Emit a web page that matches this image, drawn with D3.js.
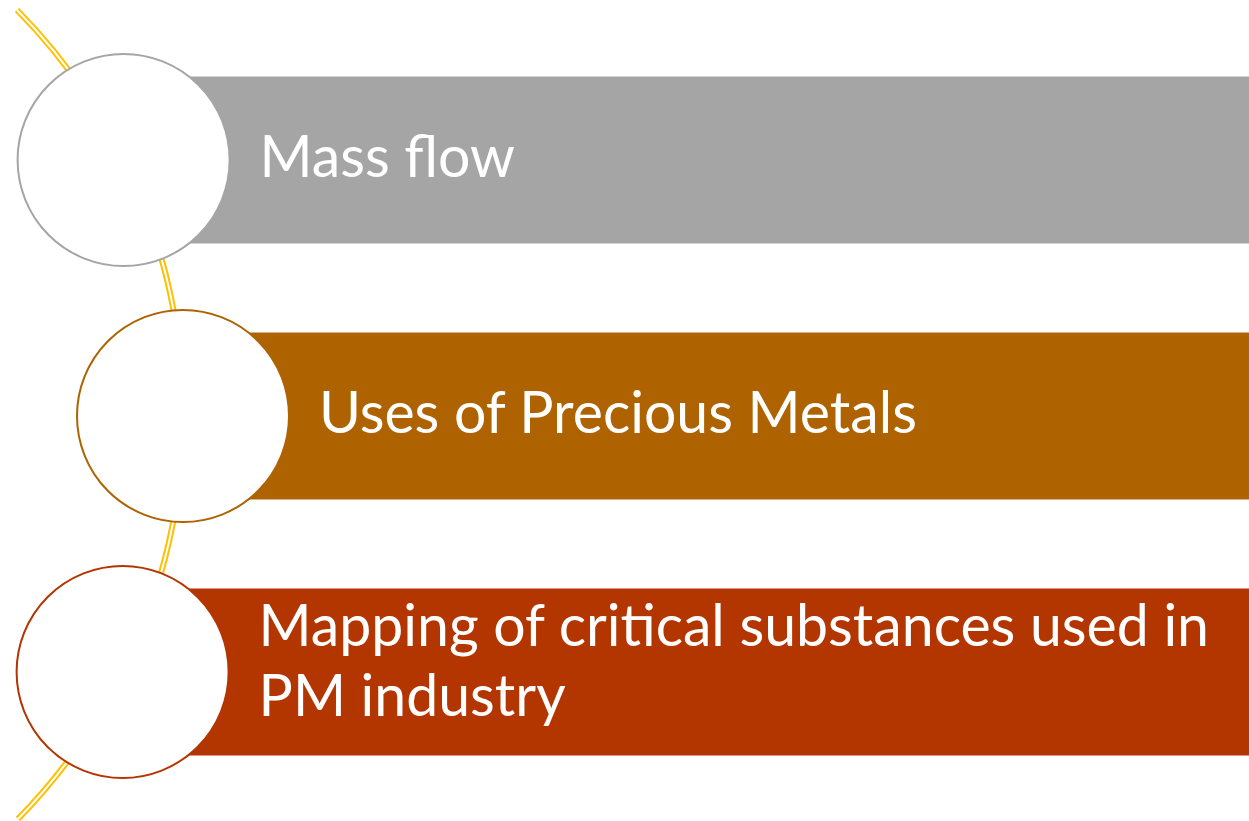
<!DOCTYPE html>
<html>
<head>
<meta charset="utf-8">
<script src="https://cdn.jsdelivr.net/npm/d3@7"></script>
<style>
  html, body { margin: 0; padding: 0; background: #fff; }
  svg { display: block; }
  text { font-family: Lato, "Open Sans", sans-serif; fill: #fff; }
</style>
</head>
<body>
<div id="chart"></div>
<script>
var WIDTH = 1249, HEIGHT = 821;

// items of the list, top to bottom
var steps = ["step1", "step2", "step3"];
var labels = [
    ["Mass flow"],
    ["Uses of Precious Metals"],
    ["Mapping of critical substances used in", "PM industry"]
];
var fills = ["#A5A5A5", "#AE6300", "#B33500"];

var ARC_CX = -394, ARC_CY = 415, ARC_R = 577;
var CIRCLE_R = 106;
var BAR_H = 167;
var TEXT_GAP = 136;
var FONT_SIZE = 60;

var yScale = d3.scalePoint().domain(steps).range([160, 672]);

// x on the big arc for a given y
function arcX(y){
    return ARC_CX + Math.sqrt(ARC_R*ARC_R - (y-ARC_CY)*(y-ARC_CY));
}

var svg = d3.select("#chart").append("svg")
    .attr("width", WIDTH)
    .attr("height", HEIGHT);

// the double yellow arc
var a0 = Math.atan2(10 - ARC_CY, 17 - ARC_CX) + Math.PI/2;
var a1 = Math.atan2(818 - ARC_CY, 17 - ARC_CX) + Math.PI/2;
var arcPath = d3.arc()
    .innerRadius(ARC_R)
    .outerRadius(ARC_R)
    .startAngle(a0)
    .endAngle(a1);
var arcG = svg.append("g").attr("transform", "translate(" + ARC_CX + "," + ARC_CY + ")");
arcG.append("path").attr("d", arcPath()).attr("fill", "none")
    .attr("stroke", "#FFC000").attr("stroke-width", 6);
arcG.append("path").attr("d", arcPath()).attr("fill", "none")
    .attr("stroke", "#fff").attr("stroke-width", 2);

var rows = svg.selectAll(".row")
    .data(steps)
    .enter().append("g")
    .attr("class", "row");

rows.append("rect")
    .attr("class", "bar")
    .attr("x", function(d){ return arcX(yScale(d)); })
    .attr("y", function(d){ return yScale(d) - BAR_H/2; })
    .attr("width", function(d){ return WIDTH - arcX(yScale(d)); })
    .attr("height", BAR_H)
    .attr("fill", function(d,i){ return fills[i]; });

rows.append("circle")
    .attr("cx", function(d){ return arcX(yScale(d)); })
    .attr("cy", function(d){ return yScale(d); })
    .attr("r", CIRCLE_R)
    .attr("fill", "#fff")
    .attr("stroke", function(d,i){ return fills[i]; })
    .attr("stroke-width", 2);

// one text per item, extra lines as tspans
rows.each(function(d, i){
    var lines = labels[i];
    d3.select(this).append("text")
        .attr("class", "label")
        .datum({cx: arcX(yScale(d)), cy: yScale(d), n: lines.length})
        .style("font-size", FONT_SIZE + "px")
        .selectAll("tspan")
        .data(lines)
        .enter().append("tspan")
        .text(function(l){ return l; });
});

// fit the font so the longest line spans like the original
var longest = 0;
svg.selectAll("text.label tspan").each(function(){ longest = Math.max(longest, this.getComputedTextLength()); });
var fitted = FONT_SIZE * 950 / longest;
var lineH = Math.ceil(fitted * 1.21);
svg.selectAll("text.label")
    .style("font-size", fitted + "px")
    .each(function(p){
        d3.select(this).selectAll("tspan")
            .attr("x", p.cx + TEXT_GAP)
            .attr("y", function(l, j){ return p.cy + 17 + (j - (p.n-1)/2)*lineH - (p.n-1)*8; });
    });
</script>
</body>
</html>
